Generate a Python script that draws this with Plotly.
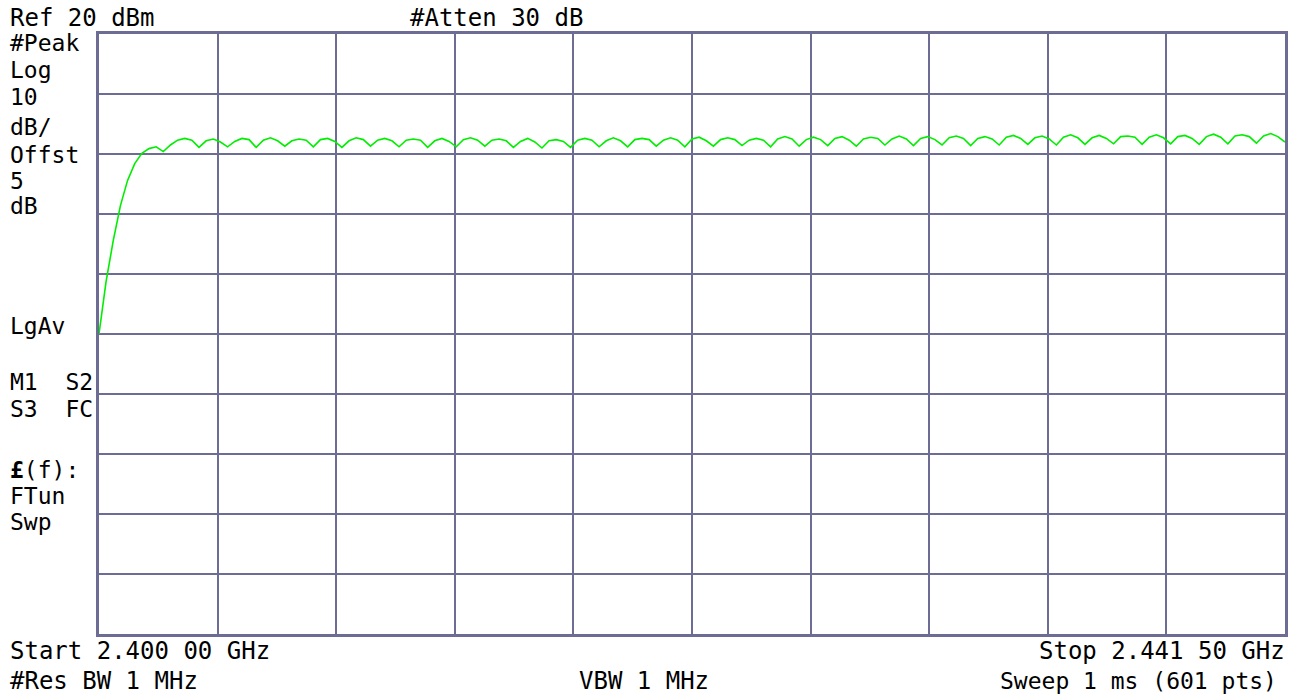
import plotly.graph_objects as go

# Sweep frequencies (MHz), sampled every 0.25 MHz from start to stop
FREQ_MHZ = [
    2400.00, 2400.25, 2400.50, 2400.75, 2401.00, 2401.25, 2401.50, 2401.75,
    2402.00, 2402.25, 2402.50, 2402.75, 2403.00, 2403.25, 2403.50, 2403.75,
    2404.00, 2404.25, 2404.50, 2404.75, 2405.00, 2405.25, 2405.50, 2405.75,
    2406.00, 2406.25, 2406.50, 2406.75, 2407.00, 2407.25, 2407.50, 2407.75,
    2408.00, 2408.25, 2408.50, 2408.75, 2409.00, 2409.25, 2409.50, 2409.75,
    2410.00, 2410.25, 2410.50, 2410.75, 2411.00, 2411.25, 2411.50, 2411.75,
    2412.00, 2412.25, 2412.50, 2412.75, 2413.00, 2413.25, 2413.50, 2413.75,
    2414.00, 2414.25, 2414.50, 2414.75, 2415.00, 2415.25, 2415.50, 2415.75,
    2416.00, 2416.25, 2416.50, 2416.75, 2417.00, 2417.25, 2417.50, 2417.75,
    2418.00, 2418.25, 2418.50, 2418.75, 2419.00, 2419.25, 2419.50, 2419.75,
    2420.00, 2420.25, 2420.50, 2420.75, 2421.00, 2421.25, 2421.50, 2421.75,
    2422.00, 2422.25, 2422.50, 2422.75, 2423.00, 2423.25, 2423.50, 2423.75,
    2424.00, 2424.25, 2424.50, 2424.75, 2425.00, 2425.25, 2425.50, 2425.75,
    2426.00, 2426.25, 2426.50, 2426.75, 2427.00, 2427.25, 2427.50, 2427.75,
    2428.00, 2428.25, 2428.50, 2428.75, 2429.00, 2429.25, 2429.50, 2429.75,
    2430.00, 2430.25, 2430.50, 2430.75, 2431.00, 2431.25, 2431.50, 2431.75,
    2432.00, 2432.25, 2432.50, 2432.75, 2433.00, 2433.25, 2433.50, 2433.75,
    2434.00, 2434.25, 2434.50, 2434.75, 2435.00, 2435.25, 2435.50, 2435.75,
    2436.00, 2436.25, 2436.50, 2436.75, 2437.00, 2437.25, 2437.50, 2437.75,
    2438.00, 2438.25, 2438.50, 2438.75, 2439.00, 2439.25, 2439.50, 2439.75,
    2440.00, 2440.25, 2440.50, 2440.75, 2441.00, 2441.25, 2441.50,
]

# Trace level (dBm)
LEVEL_DBM = [
    -30.0, -21.2, -14.4, -8.6, -4.4, -1.6, 0.1, 0.9,
    1.2, 0.4, 1.5, 2.3, 2.6, 2.3, 1.1, 2.2,
    2.5, 2.0, 1.2, 2.1, 2.6, 2.4, 1.1, 2.3,
    2.7, 2.2, 1.3, 2.2, 2.5, 2.3, 1.2, 2.4,
    2.6, 2.1, 1.1, 2.2, 2.7, 2.4, 1.3, 2.3,
    2.6, 2.2, 1.2, 2.3, 2.5, 2.3, 1.1, 2.2,
    2.6, 2.1, 1.2, 2.4, 2.7, 2.3, 1.3, 2.3,
    2.5, 2.2, 1.1, 2.1, 2.6, 2.0, 1.0, 2.2,
    2.4, 2.1, 1.1, 2.3, 2.6, 2.3, 1.2, 2.2,
    2.7, 2.2, 1.2, 2.4, 2.6, 2.4, 1.3, 2.3,
    2.7, 2.3, 1.2, 2.5, 2.8, 2.2, 1.3, 2.4,
    2.7, 2.4, 1.4, 2.3, 2.6, 2.3, 1.2, 2.5,
    2.9, 2.5, 1.3, 2.4, 2.8, 2.4, 1.4, 2.6,
    2.9, 2.3, 1.3, 2.5, 2.8, 2.6, 1.5, 2.5,
    3.0, 2.5, 1.4, 2.6, 2.9, 2.4, 1.5, 2.7,
    3.0, 2.6, 1.4, 2.6, 2.9, 2.5, 1.5, 2.8,
    3.1, 2.6, 1.6, 2.7, 3.0, 2.5, 1.5, 2.8,
    3.2, 2.7, 1.6, 2.7, 3.1, 2.6, 1.7, 2.9,
    3.0, 2.8, 1.6, 2.8, 3.2, 2.7, 1.7, 2.9,
    3.1, 2.6, 1.6, 2.9, 3.3, 2.8, 1.7, 3.0,
    3.2, 2.9, 1.8, 3.0, 3.4, 2.9, 2.0,
]

START_MHZ = 2400.0
STOP_MHZ = 2441.5
REF_DBM = 20
DB_PER_DIV = 10
N_DIV = 10

LEFT_LABELS = [("#Peak", 43), ("Log", 70), ("10", 97), ("dB/", 127), ("Offst", 155),
               ("5", 181), ("dB", 206), ("LgAv", 326), ("M1  S2", 382), ("S3  FC", 409),
               ("<b>£</b>(f):", 470), ("FTun", 496), ("Swp", 522)]

W, H = 1293, 696
ML, MT, MR, MB = 99, 34, 5, 62
PW, PH = W - ML - MR, H - MT - MB

def px(x):
    return (x - ML) / PW

def py(y):
    return (H - MB - y) / PH

FONT = dict(family="DejaVu Sans Mono", size=24, color="#000000")
SMALL = dict(family="DejaVu Sans Mono", size=23, color="#000000")
FRAME = "#6c6c94"

fig = go.Figure()
fig.add_trace(go.Scatter(x=FREQ_MHZ, y=LEVEL_DBM, mode="lines",
                         line=dict(color="#00ee00", width=1.6),
                         hoverinfo="skip", showlegend=False))

fig.update_xaxes(range=[START_MHZ, STOP_MHZ], tick0=START_MHZ,
                 dtick=(STOP_MHZ - START_MHZ) / N_DIV,
                 showticklabels=False, ticks="", showgrid=True,
                 gridcolor=FRAME, gridwidth=2, zeroline=False,
                 showline=True, linecolor=FRAME, linewidth=3, mirror=True)
fig.update_yaxes(range=[REF_DBM - DB_PER_DIV * N_DIV, REF_DBM], tick0=REF_DBM,
                 dtick=DB_PER_DIV, showticklabels=False, ticks="", showgrid=True,
                 gridcolor=FRAME, gridwidth=2, zeroline=False,
                 showline=True, linecolor=FRAME, linewidth=3, mirror=True)

ann = []
def add(text, x, y, anchor="left", font=FONT):
    ann.append(dict(text=text, x=px(x), y=py(y), xref="paper", yref="paper",
                    xanchor=anchor, yanchor="middle", showarrow=False, font=font))

add("Ref 20 dBm", 8, 18)
add("#Atten 30 dB", 409, 18)
for t, y in LEFT_LABELS:
    add(t, 8, y, font=SMALL)
add("Start 2.400 00 GHz", 8, 651)
add("#Res BW 1 MHz", 8, 681)
add("VBW 1 MHz", 578, 681)
add("Stop 2.441 50 GHz", 1290, 651, "right")
add("Sweep 1 ms (601 pts)", 1282, 681, "right", font=SMALL)

fig.update_layout(width=W, height=H, margin=dict(l=ML, r=MR, t=MT, b=MB),
                  paper_bgcolor="white", plot_bgcolor="white",
                  annotations=ann, showlegend=False)

fig.write_html("out.html", config={"displayModeBar": False},
               post_script="document.body.style.margin='0px';"
                           "document.body.style.overflow='hidden';")
